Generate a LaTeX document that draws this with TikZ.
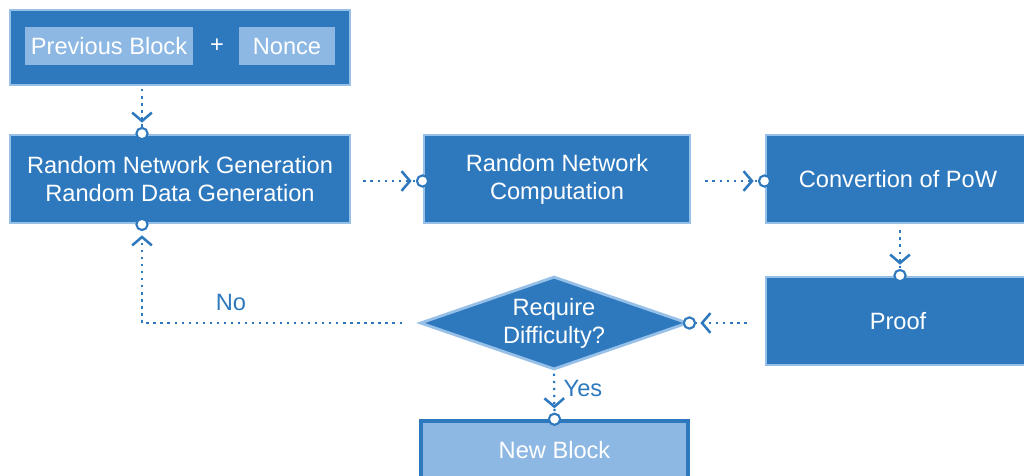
\documentclass[tikz,border=0pt]{standalone}
\usepackage{fontspec}
\setmainfont{Liberation Sans}
\usetikzlibrary{arrows.meta, shapes.geometric}

\definecolor{bcdark}{RGB}{46,121,190}
\definecolor{bclight}{RGB}{141,184,227}
\definecolor{bcedge}{RGB}{150,192,232}

\begin{document}
\begin{tikzpicture}[x=0.025cm, y=-0.025cm,
    txt/.style={font=\fontsize{16.8}{20}\selectfont, align=center},
    darkbox/.style={txt, rectangle, fill=bcdark, draw=bcedge, line width=2pt, text=white},
    lightbox/.style={txt, rectangle, fill=bclight, draw=none, text=white},
    flow/.style={draw=bcdark, line width=1.6pt, dash pattern=on 1.6pt off 3.4pt,
        -{Straight Barb[length=6pt, width=14pt, line width=1.8pt, sep=3pt]
          Circle[length=9.5pt, fill=white, line width=1.5pt]},
        shorten >=-4.75pt}]
    % 1 unit = 1 px of a 1024 x 475 page, y downwards
    \useasboundingbox (0,0) rectangle (1024,475);

    % Top row: previous block + nonce
    \node[darkbox, minimum width=8.5cm, minimum height=1.875cm] (top) at (180,47.5) {};
    \node[lightbox, minimum width=4.2cm, minimum height=0.95cm] (prev) at (109,46) {Previous Block};
    \node[txt, text=white] (plus) at (217,46) {+};
    \node[lightbox, minimum width=2.4cm, minimum height=0.95cm] (nonce) at (287,46) {Nonce};

    % Main boxes
    \node[darkbox, minimum width=8.5cm, minimum height=2.2cm] (gen) at (180,179)
        {Random Network Generation\\Random Data Generation};
    \node[darkbox, minimum width=6.65cm, minimum height=2.2cm] (comp) at (557,179)
        {Random Network\\Computation};
    \node[darkbox, minimum width=6.6cm, minimum height=2.2cm] (conv) at (898,179)
        {Convertion of PoW};
    \node[darkbox, minimum width=6.6cm, minimum height=2.2cm] (proof) at (898,321)
        {Proof};

    % Decision
    \node[txt, diamond, aspect=2.9, inner sep=0pt, fill=bcdark, draw=bcedge, line width=2pt,
        text=white, minimum width=6.7cm, minimum height=2.325cm] (req) at (554,323)
        {Require\\Difficulty?};

    % Result
    \node[txt, rectangle, fill=bclight, draw=bcdark, line width=2.5pt, text=white,
        minimum width=6.675cm, minimum height=1.45cm] (new) at (554.5,450) {New Block};

    % Connectors
    \draw[flow, shorten <=2pt] ([xshift=-0.95cm]top.south) -- ([xshift=-0.95cm]gen.north);
    \draw[flow, shorten <=0.3cm] ([yshift=-0.05cm]gen.east) -- ([yshift=-0.05cm]comp.west);
    \draw[flow, shorten <=0.35cm] ([yshift=-0.05cm]comp.east) -- ([yshift=-0.05cm]conv.west);
    \draw[flow, shorten <=0.15cm] ([xshift=0.05cm]conv.south) -- ([xshift=0.05cm]proof.north);
    \draw[flow, shorten <=0.45cm] (proof.west |- req.east) -- (req.east);
    \draw[flow, shorten <=2pt] (req.south) -- (new.north);
    \draw[flow, shorten <=0.42cm] (req.west) -| ([xshift=-0.95cm]gen.south);

    % Branch labels
    \node[txt, text=bcdark] (no) at (231,302) {No};
    \node[txt, text=bcdark] (yes) at (583,388) {Yes};
\end{tikzpicture}
\end{document}
